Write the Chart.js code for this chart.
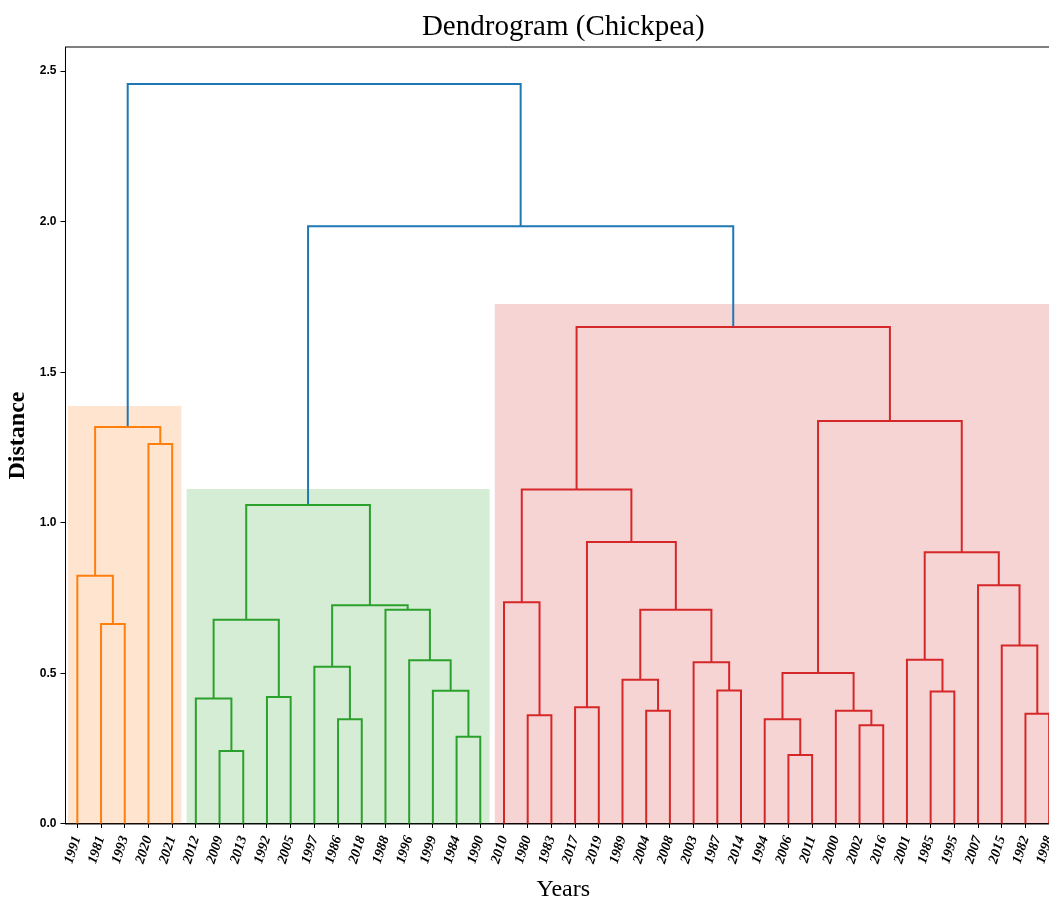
<!DOCTYPE html>
<html>
<head>
<meta charset="utf-8">
<script src="https://cdn.jsdelivr.net/npm/chart.js@4.4.1/dist/chart.umd.min.js"></script>
<style>
  html, body { margin: 0; padding: 0; background: #fff; overflow: hidden; }
  #wrap { width: 1126px; height: 899px; }
</style>
</head>
<body>
<div id="wrap"><canvas id="chart"></canvas></div>
<script>
// leaf order along the x axis
const leafYears = ['1991', '1981', '1993', '2020', '2021',
  '2012', '2009', '2013', '1992', '2005', '1997', '1986', '2018', '1988', '1996', '1999', '1984', '1990',
  '2010', '1980', '1983', '2017', '2019', '1989', '2004', '2008', '2003', '1987', '2014', '1994', '2006',
  '2011', '2000', '2002', '2016', '2001', '1985', '1995', '2007', '2015', '1982', '1998'];

// merges (scipy style): ids < 42 are leaves, 42 + k is merge k
const mergeLeft = [1, 0, 3, 43,
  6, 5, 8, 47, 11, 10, 16, 15, 14, 13, 51, 49,
  19, 18, 21, 24, 23, 27, 26, 62, 60, 59, 30, 29, 33, 32, 69, 36, 35, 40, 39, 38, 74, 72, 67,
  57, 45];
const mergeRight = [2, 42, 4, 44,
  7, 46, 9, 48, 12, 50, 17, 52, 53, 54, 55, 56,
  20, 58, 22, 25, 61, 28, 63, 64, 65, 66, 31, 68, 34, 70, 71, 37, 73, 41, 75, 76, 77, 78, 79,
  80, 81];
const mergeHeight = [0.664, 0.824, 1.262, 1.318,
  0.242, 0.417, 0.422, 0.678, 0.348, 0.522, 0.290, 0.442, 0.544, 0.711, 0.726, 1.059,
  0.361, 0.736, 0.388, 0.376, 0.479, 0.443, 0.537, 0.711, 0.936, 1.111, 0.229, 0.348, 0.328, 0.376,
  0.501, 0.440, 0.545, 0.366, 0.593, 0.793, 0.902, 1.338, 1.650,
  1.985, 2.457];

// clusters: leaf index where each one ends, and the top of its shaded box
const clusterLeafEnd = [5, 18, 42];
const clusterBoxTop = [1.388, 1.112, 1.727];

const yTicks = [0, 0.5, 1.0, 1.5, 2.0, 2.5];
const yMax = 2.58;

const clusterColors = ['#ff7f0e', '#2ca02c', '#d62728'];
const boxColors = ['rgba(255,127,14,0.2)', 'rgba(44,160,44,0.2)', 'rgba(214,39,40,0.2)'];
const aboveColor = '#1f77b4';

const n = leafYears.length;
const nodeX = leafYears.map((_, i) => 5 + 10 * i);
const nodeY = leafYears.map(() => 0);
const nodeCluster = leafYears.map((_, i) => clusterLeafEnd.findIndex(end => i < end));

const datasets = [];

mergeHeight.forEach((h, k) => {
    const a = mergeLeft[k], b = mergeRight[k];
    const id = n + k;
    nodeX[id] = (nodeX[a] + nodeX[b]) / 2;
    nodeY[id] = h;
    nodeCluster[id] = nodeCluster[a] === nodeCluster[b] ? nodeCluster[a] : -1;
    const color = nodeCluster[id] < 0 ? aboveColor : clusterColors[nodeCluster[id]];
    datasets.push({
        data: [
            { x: nodeX[a], y: nodeY[a] },
            { x: nodeX[a], y: h },
            { x: nodeX[b], y: h },
            { x: nodeX[b], y: nodeY[b] }
        ],
        borderColor: color,
        borderWidth: 2,
        pointRadius: 0,
        fill: false,
        tension: 0,
        order: 0
    });
});

clusterLeafEnd.forEach((end, c) => {
    const start = c === 0 ? 0 : clusterLeafEnd[c - 1];
    datasets.push({
        data: [
            { x: start * 10 + 1, y: clusterBoxTop[c] },
            { x: end * 10 - 1, y: clusterBoxTop[c] }
        ],
        fill: 'origin',
        backgroundColor: boxColors[c],
        borderWidth: 0,
        pointRadius: 0,
        order: 10
    });
});

// frame like matplotlib spines, plus title centred over the axes
const framePlugin = {
    id: 'frame',
    afterDraw(chart) {
        const { ctx, chartArea: a } = chart;
        ctx.save();
        ctx.strokeStyle = '#000';
        ctx.lineWidth = 1;
        ctx.strokeRect(a.left, a.top, a.right - a.left, a.bottom - a.top);
        ctx.fillStyle = '#000';
        ctx.font = '29px "Liberation Serif"';
        ctx.textAlign = 'center';
        ctx.textBaseline = 'middle';
        ctx.fillText('Dendrogram (Chickpea)', (a.left + a.right) / 2, 27);
        ctx.restore();
    }
};

new Chart(document.getElementById('chart'), {
    type: 'line',
    data: { datasets: datasets },
    plugins: [framePlugin],
    options: {
        responsive: true,
        maintainAspectRatio: false,
        animation: false,
        layout: { padding: { left: 3, right: 65, top: 47, bottom: 0 } },
        plugins: {
            legend: { display: false },
            tooltip: { enabled: false },
            title: { display: false }
        },
        scales: {
            x: {
                type: 'linear',
                min: 0,
                max: n * 10,
                afterBuildTicks: axis => {
                    axis.ticks = leafYears.map((_, i) => ({ value: 5 + 10 * i }));
                },
                ticks: {
                    autoSkip: false,
                    maxRotation: 72,
                    minRotation: 72,
                    padding: 6,
                    color: '#000',
                    font: { family: 'Liberation Serif', size: 14, weight: 'bold', style: 'italic' },
                    callback: (v, i) => leafYears[i]
                },
                grid: { drawOnChartArea: false, drawTicks: true, tickLength: 4, color: '#000' },
                border: { color: '#000', width: 1 },
                title: {
                    display: true,
                    text: 'Years',
                    color: '#000',
                    font: { family: 'Liberation Serif', size: 24, lineHeight: 0.8 },
                    padding: { top: 8, bottom: 0 }
                }
            },
            y: {
                min: 0,
                max: yMax,
                afterBuildTicks: axis => {
                    axis.ticks = yTicks.map(v => ({ value: v }));
                },
                ticks: {
                    color: '#000',
                    padding: 4,
                    font: { family: 'Liberation Sans', size: 12, weight: 'bold' },
                    callback: v => v.toFixed(1)
                },
                grid: { drawOnChartArea: false, drawTicks: true, tickLength: 5, color: '#000' },
                border: { color: '#000', width: 1 },
                title: {
                    display: true,
                    text: 'Distance',
                    color: '#000',
                    font: { family: 'Liberation Serif', size: 24, weight: 'bold' },
                    padding: { top: 0, bottom: 4 }
                }
            }
        }
    }
});
</script>
</body>
</html>
